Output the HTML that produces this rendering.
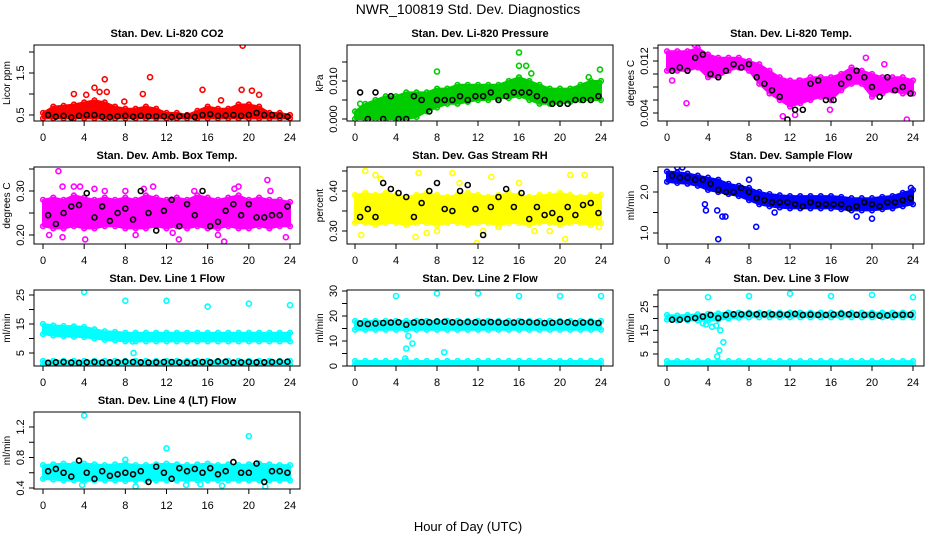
<!DOCTYPE html>
<html><head><meta charset="utf-8"><style>
html,body{margin:0;padding:0;background:#fff;}
svg{display:block;font-family:"Liberation Sans",Arial,sans-serif;}
</style></head><body>
<svg id="chart" width="936" height="540" viewBox="0 0 936 540" xmlns="http://www.w3.org/2000/svg">
<rect x="0" y="0" width="936" height="540" fill="#fff"/>
<text x="468" y="14" text-anchor="middle" font-size="14">NWR_100819  Std. Dev. Diagnostics</text>
<text x="468" y="531" text-anchor="middle" font-size="13">Hour of Day (UTC)</text>
</svg>
<script>
const bandT=[0,1,2,3,4,5,6,7,8,9,10,11,12,13,14,15,16,17,18,19,20,21,22,23,24];
const blackT=[0.5,1.25,2,2.75,3.5,4.25,5,5.75,6.5,7.25,8,8.75,9.5,10.25,11,11.75,12.5,13.25,14,14.75,15.5,16.25,17,17.75,18.5,19.25,20,20.75,21.5,22.25,23,23.75];
const xTicks=[0,4,8,12,16,20,24];

const co2Lo=[0.42,0.42,0.42,0.42,0.42,0.42,0.42,0.42,0.42,0.42,0.42,0.42,0.42,0.42,0.42,0.42,0.42,0.42,0.42,0.42,0.42,0.42,0.42,0.42,0.42];
const co2Hi=[0.55,0.7,0.72,0.75,0.8,0.85,0.8,0.7,0.65,0.65,0.7,0.65,0.55,0.55,0.5,0.6,0.7,0.65,0.65,0.75,0.75,0.7,0.55,0.55,0.5];
const co2Out=[[19.4,2.15],[6,1.35],[10.4,1.4],[5,1.15],[15.5,1.1],[19.3,1.1],[20.3,1.08],[3,1.0],[9.7,1.0],[4.2,0.98],[5.5,1.05],[6.2,1.05],[21,0.98],[7.9,0.82],[17.3,0.85]];
const co2Black=[0.5,0.46,0.48,0.44,0.48,0.5,0.5,0.46,0.45,0.47,0.48,0.46,0.48,0.47,0.47,0.47,0.45,0.47,0.48,0.45,0.5,0.52,0.48,0.49,0.5,0.48,0.5,0.55,0.5,0.5,0.48,0.46];

const presLo=[0,0,0,0,0,0,0.0005,0.002,0.003,0.004,0.004,0.0045,0.005,0.005,0.0055,0.0055,0.006,0.005,0.004,0.004,0.004,0.0045,0.005,0.005,0.005];
const presHi=[0.002,0.004,0.005,0.006,0.006,0.007,0.007,0.007,0.008,0.008,0.009,0.009,0.009,0.009,0.009,0.010,0.011,0.010,0.009,0.008,0.008,0.008,0.009,0.010,0.010];
const presOut=[[8,0.0125],[16,0.0175],[16,0.014],[16.7,0.014],[22.8,0.011],[23.9,0.013],[17.2,0.012],[0.5,0.004],[1.7,0.003],[2.2,0.004],[4.6,0.003]];
const presBlack=[0.007,0,0.007,0,0.006,0,0,0.006,0.005,0.002,0.005,0.005,0.005,0.006,0.005,0.006,0.006,0.007,0.005,0.006,0.007,0.007,0.007,0.006,0.005,0.004,0.004,0.004,0.005,0.005,0.005,0.006];

const tempLo=[0.0105,0.0105,0.0105,0.011,0.0095,0.0095,0.0105,0.011,0.0105,0.0085,0.007,0.006,0.005,0.0055,0.006,0.0065,0.006,0.0075,0.0085,0.0085,0.0065,0.007,0.0075,0.007,0.007];
const tempHi=[0.0135,0.0135,0.0135,0.014,0.013,0.0125,0.0125,0.0125,0.012,0.0115,0.0105,0.0095,0.009,0.009,0.0095,0.0095,0.0095,0.010,0.011,0.0105,0.010,0.0095,0.0095,0.0095,0.009];
const tempOut=[[1.9,0.0055],[2.7,0.0145],[0.5,0.009],[11.3,0.0035],[12.5,0.0037],[12.9,0.009],[19.4,0.0125],[23.4,0.003],[21.2,0.0115],[15.9,0.0045]];
const tempBlack=[0.0105,0.011,0.0105,0.0125,0.013,0.01,0.0095,0.0105,0.0115,0.011,0.0115,0.0095,0.0085,0.0075,0.0065,0.003,0.0045,0.0045,0.0085,0.009,0.006,0.006,0.0085,0.0095,0.0105,0.0095,0.008,0.0065,0.0095,0.0075,0.008,0.007];

const ambLo=[0.22,0.215,0.215,0.22,0.215,0.215,0.22,0.22,0.215,0.215,0.215,0.22,0.215,0.22,0.215,0.22,0.215,0.215,0.22,0.215,0.215,0.22,0.215,0.22,0.22];
const ambHi=[0.28,0.285,0.28,0.29,0.285,0.28,0.285,0.28,0.285,0.28,0.29,0.285,0.28,0.285,0.28,0.29,0.285,0.28,0.285,0.29,0.28,0.285,0.28,0.28,0.275];
const ambOut=[[1.5,0.345],[1.9,0.31],[0.6,0.2],[1.9,0.195],[4.1,0.19],[5,0.305],[8,0.3],[9.8,0.305],[10.7,0.31],[13.2,0.19],[14.7,0.3],[18.6,0.305],[19,0.31],[21.8,0.325],[22.1,0.3],[23.6,0.195],[17.6,0.185],[3,0.31],[3.6,0.31],[6,0.3],[17,0.2],[9,0.2],[12.6,0.205]];
const ambBlack=[0.245,0.225,0.25,0.265,0.268,0.295,0.24,0.265,0.232,0.25,0.26,0.235,0.3,0.25,0.21,0.255,0.28,0.22,0.27,0.245,0.3,0.22,0.23,0.255,0.27,0.245,0.27,0.24,0.24,0.245,0.245,0.265];

const rhLo=[0.32,0.32,0.315,0.32,0.32,0.315,0.32,0.32,0.315,0.32,0.32,0.315,0.32,0.32,0.315,0.32,0.32,0.315,0.32,0.32,0.315,0.32,0.32,0.315,0.32];
const rhHi=[0.39,0.395,0.39,0.395,0.39,0.385,0.39,0.395,0.39,0.385,0.39,0.395,0.39,0.385,0.39,0.395,0.39,0.385,0.39,0.39,0.395,0.39,0.385,0.39,0.39];
const rhOut=[[1,0.45],[2,0.44],[2.5,0.43],[6.2,0.445],[8,0.3],[9.5,0.445],[0.6,0.29],[5.9,0.285],[7,0.295],[11.9,0.27],[12.5,0.3],[13.3,0.435],[20.5,0.28],[21,0.44],[22.4,0.44],[19,0.3],[16,0.42],[14,0.31],[17.5,0.3],[10.2,0.42],[23.8,0.31]];
const rhBlack=[0.335,0.355,0.335,0.42,0.405,0.395,0.385,0.335,0.37,0.4,0.42,0.355,0.35,0.4,0.415,0.355,0.29,0.36,0.385,0.405,0.36,0.395,0.33,0.36,0.34,0.345,0.33,0.36,0.34,0.365,0.37,0.345];

const sfLo=[2.25,2.22,2.2,2.15,2.05,2.0,1.95,1.9,1.8,1.7,1.65,1.62,1.6,1.6,1.6,1.6,1.6,1.58,1.55,1.55,1.55,1.58,1.6,1.65,1.7];
const sfHi=[2.5,2.48,2.45,2.4,2.35,2.3,2.2,2.15,2.1,2.0,1.95,1.92,1.9,1.9,1.9,1.9,1.9,1.88,1.85,1.85,1.85,1.88,1.9,1.98,2.05];
const sfOut=[[3.7,1.7],[3.8,1.55],[4.9,1.55],[5,0.85],[5.4,1.4],[5.7,1.4],[8.7,1.15],[8,2.3],[1,2.6],[1.5,2.6],[20,1.35],[18.5,1.4],[23.8,2.1],[10.5,1.5]];
const sfBlack=[2.4,2.35,2.35,2.3,2.3,2.2,2.05,2.0,2.0,2.1,2.0,1.85,1.8,1.75,1.75,1.75,1.7,1.65,1.75,1.7,1.7,1.7,1.7,1.6,1.65,1.75,1.7,1.65,1.75,1.75,1.8,1.85];

const l1Lo=[11.5,11,10.8,10.6,10.5,10,9.5,9.3,9,9,9,9,9,9,9,9,9,9,9,9,9,9,9,9,9];
const l1Hi=[15,14.5,14.3,14.2,14,13.2,12.5,12.3,12,12,12,12,12,12,12,12,12,12,12,12,12,12,12,12,12];
const l1Lo2=[1,1,1,1,1,1,1,1,1,1,1,1,1,1,1,1,1,1,1,1,1,1,1,1,1];
const l1Hi2=[2.3,2.3,2.3,2.3,2.3,2.3,2.3,2.3,2.3,2.3,2.3,2.3,2.3,2.3,2.3,2.3,2.3,2.3,2.3,2.3,2.3,2.3,2.3,2.3,2.3];
const l1Out=[[4,26],[8,23],[12,23],[16,21],[20,22],[24,21.5],[8.7,9],[8.8,5]];
const l1Black=[1.6,1.8,1.9,1.7,1.6,1.8,1.9,1.7,1.8,1.8,2.0,1.9,1.8,1.7,1.8,1.9,1.9,1.8,1.7,1.7,1.9,1.8,2.1,2.0,1.7,1.8,1.9,1.8,1.8,1.9,2.0,2.0];

const l2Lo=[14.5,14.5,14.5,14.5,14.5,14.5,14.5,14.5,14.5,14.5,14.5,14.5,14.5,14.5,14.5,14.5,14.5,14.5,14.5,14.5,14.5,14.5,14.5,14.5,14.5];
const l2Hi=[18,18,18,18,18,18,18,18,18,18,18,18,18,18,18,18,18,18,18,18,18,18,18,18,18];
const l2Lo2=[0.5,0.5,0.5,0.5,0.5,0.5,0.5,0.5,0.5,0.5,0.5,0.5,0.5,0.5,0.5,0.5,0.5,0.5,0.5,0.5,0.5,0.5,0.5,0.5,0.5];
const l2Hi2=[2,2,2,2,2,2,2,2,2,2,2,2,2,2,2,2,2,2,2,2,2,2,2,2,2];
const l2Out=[[4,28],[8,29],[12,29],[16,28],[20,28],[24,28],[4.9,3],[5,7],[5.2,12],[5.6,9],[8.7,5.5]];
const l2Black=[17,16.8,17,17.2,17.4,17.5,16.5,17.4,17.6,17.5,17.8,17.7,17.5,17.4,17.6,17.5,17.4,17.6,17.5,17.3,17.4,17.6,17.5,17.4,17.2,17.3,17.6,17.5,17.2,17.4,17.5,17.2];

const l3Lo=[19.5,19.3,19.2,19.2,19,19.5,20,20.3,20.5,20.5,20.5,20.5,20.5,20.5,20.5,20.5,20.5,20.5,20.5,20.5,20.5,20.5,20.5,20.5,20.5];
const l3Hi=[21.5,21.3,21.5,21.8,22,22.2,22.5,22.5,22.5,22.5,22.5,22.5,22.5,22.5,22.5,22.5,22.5,22.5,22.5,22.5,22.5,22.5,22.5,22.5,22.5];
const l3Lo2=[0.5,0.5,0.5,0.5,0.5,0.5,0.5,0.5,0.5,0.5,0.5,0.5,0.5,0.5,0.5,0.5,0.5,0.5,0.5,0.5,0.5,0.5,0.5,0.5,0.5];
const l3Hi2=[2,2,2,2,2,2,2,2,2,2,2,2,2,2,2,2,2,2,2,2,2,2,2,2,2];
const l3Out=[[4,29],[8,29.5],[12,30.5],[16,29.5],[20,30],[24,29],[3.5,18],[3.8,17.5],[4.4,16.5],[4.8,17],[5.2,15],[5.5,10],[5.1,6.5],[4.9,4]];
const l3Black=[19.5,19.5,19.8,20.2,20.8,21.5,20.2,21.5,21.8,21.8,22,21.8,21.8,21.8,21.8,21.7,22,21.5,21.7,21.5,21.5,21.7,22,21.8,21.6,21.5,21.6,21.2,21.3,21.5,21.6,21.6];

const l4Lo=[0.52,0.51,0.5,0.5,0.49,0.5,0.5,0.5,0.49,0.5,0.5,0.5,0.5,0.5,0.5,0.5,0.5,0.5,0.5,0.5,0.5,0.5,0.5,0.5,0.5];
const l4Hi=[0.7,0.71,0.72,0.71,0.72,0.71,0.7,0.71,0.72,0.7,0.7,0.71,0.72,0.71,0.7,0.71,0.72,0.7,0.71,0.7,0.71,0.72,0.71,0.7,0.7];
const l4Out=[[4,1.35],[12,0.92],[20,1.08],[8,0.77],[3.8,0.44],[9,0.42],[13.9,0.44],[17.4,0.43],[21.6,0.42],[15.3,0.45]];
const l4Black=[0.62,0.65,0.6,0.55,0.76,0.6,0.52,0.62,0.56,0.58,0.6,0.58,0.62,0.48,0.68,0.6,0.52,0.66,0.62,0.65,0.6,0.66,0.58,0.62,0.74,0.6,0.6,0.72,0.48,0.62,0.62,0.6];

const svg=document.getElementById('chart');
const NS='http://www.w3.org/2000/svg';
function mk(tag,attrs,parent){const e=document.createElementNS(NS,tag);for(const k in attrs)e.setAttribute(k,attrs[k]);(parent||svg).appendChild(e);return e;}

const cols=[{b0:34,b1:300,x0:43,x24:290},{b0:347,b1:613,x0:355,x24:601},{b0:658,b1:924,x0:667,x24:913}];
const rows=[{t:45,b:121},{t:167,b:244},{t:290,b:366},{t:412,b:489}];

const panels=[
 {name:'co2',title:'Stan. Dev. Li-820 CO2',ylab:'Licor ppm',c:0,r:0,col:'#ff0000',ref:[0.5,115,1.5,73],ticks:[0.5,1,1.5,2],labels:[[0.5,'0.5'],[1.5,'1.5']],bands:[[co2Lo,co2Hi]],out:co2Out,black:co2Black},
 {name:'pressure',title:'Stan. Dev. Li-820 Pressure',ylab:'kPa',c:1,r:0,col:'#00cc00',ref:[0,119,0.01,81],ticks:[0,0.005,0.01,0.015],labels:[[0,'0.000'],[0.01,'0.010']],bands:[[presLo,presHi]],out:presOut,black:presBlack},
 {name:'temp',title:'Stan. Dev. Li-820 Temp.',ylab:'degrees C',c:2,r:0,col:'#ff00ff',ref:[0.004,113,0.012,61],ticks:[0.004,0.006,0.008,0.01,0.012,0.014],labels:[[0.004,'0.004'],[0.012,'0.012']],bands:[[tempLo,tempHi]],out:tempOut,black:tempBlack},
 {name:'amb-box-temp',title:'Stan. Dev. Amb. Box Temp.',ylab:'degrees C',c:0,r:1,col:'#ff00ff',ref:[0.2,235,0.3,191],ticks:[0.2,0.25,0.3,0.35],labels:[[0.2,'0.20'],[0.3,'0.30']],bands:[[ambLo,ambHi]],out:ambOut,black:ambBlack},
 {name:'gas-rh',title:'Stan. Dev. Gas Stream RH',ylab:'percent',c:1,r:1,col:'#ffff00',ref:[0.3,231,0.4,191],ticks:[0.3,0.35,0.4,0.45],labels:[[0.3,'0.30'],[0.4,'0.40']],bands:[[rhLo,rhHi]],out:rhOut,black:rhBlack},
 {name:'sample-flow',title:'Stan. Dev. Sample Flow',ylab:'ml/min',c:2,r:1,col:'#0000ff',ref:[1,233,2,192],ticks:[1,1.5,2,2.5],labels:[[1,'1.0'],[2,'2.0']],bands:[[sfLo,sfHi]],out:sfOut,black:sfBlack},
 {name:'line1-flow',title:'Stan. Dev. Line 1 Flow',ylab:'ml/min',c:0,r:2,col:'#00ffff',ref:[5,353,15,324],ticks:[5,10,15,20,25],labels:[[5,'5'],[15,'15'],[25,'25']],bands:[[l1Lo,l1Hi],[l1Lo2,l1Hi2]],out:l1Out,black:l1Black},
 {name:'line2-flow',title:'Stan. Dev. Line 2 Flow',ylab:'ml/min',c:1,r:2,col:'#00ffff',ref:[0,366,30,291],ticks:[0,5,10,15,20,25,30],labels:[[0,'0'],[10,'10'],[20,'20'],[30,'30']],bands:[[l2Lo,l2Hi],[l2Lo2,l2Hi2]],out:l2Out,black:l2Black},
 {name:'line3-flow',title:'Stan. Dev. Line 3 Flow',ylab:'ml/min',c:2,r:2,col:'#00ffff',ref:[5,354,25,306.7],ticks:[5,10,15,20,25,30],labels:[[5,'5'],[15,'15'],[25,'25']],bands:[[l3Lo,l3Hi],[l3Lo2,l3Hi2]],out:l3Out,black:l3Black},
 {name:'line4-flow',title:'Stan. Dev. Line 4 (LT) Flow',ylab:'ml/min',c:0,r:3,col:'#00ffff',ref:[0.4,488,1.2,427],ticks:[0.4,0.6,0.8,1.0,1.2],labels:[[0.4,'0.4'],[0.8,'0.8'],[1.2,'1.2']],bands:[[l4Lo,l4Hi]],out:l4Out,black:l4Black}
];

panels.forEach(p=>{
 const C=cols[p.c],R=rows[p.r];
 const xs=t=>C.x0+(C.x24-C.x0)*t/24;
 const ys=v=>p.ref[1]+(p.ref[3]-p.ref[1])*(v-p.ref[0])/(p.ref[2]-p.ref[0]);
 const g=mk('g',{});
 
 
 const clipId='clip-'+p.name;
 const cp=mk('clipPath',{id:clipId},g);
 mk('rect',{x:C.b0,y:R.t,width:C.b1-C.b0,height:R.b-R.t},cp);
 const pl=mk('g',{'clip-path':'url(#'+clipId+')'},g);
 p.bands.forEach((b,bi)=>{
  const lo=b[0],hi=b[1];
  let d='';
  bandT.forEach((t,i)=>{d+=(i?'L':'M')+xs(t).toFixed(1)+','+ys(hi[i]).toFixed(1);});
  for(let i=bandT.length-1;i>=0;i--)d+='L'+xs(bandT[i]).toFixed(1)+','+ys(lo[i]).toFixed(1);
  d+='Z';
  const band=mk('path',{d:d,fill:p.col,stroke:p.col,'stroke-width':2,'stroke-linejoin':'round'},pl);
  
  
  bandT.forEach((t,i)=>{
   [lo[i],hi[i]].forEach(v=>{
    const c=mk('circle',{cx:xs(t),cy:ys(v),r:2.3,fill:'none',stroke:p.col,'stroke-width':1.6},pl);
    
    
   });
  });
 });
 p.out.forEach(o=>{
  const c=mk('circle',{cx:xs(o[0]),cy:ys(o[1]),r:2.5,fill:'none',stroke:p.col,'stroke-width':1.6},pl);
  
  
 });
 p.black.forEach((v,i)=>{
  const c=mk('circle',{cx:xs(blackT[i]),cy:ys(v),r:2.5,fill:'none',stroke:'#000','stroke-width':1.6},pl);
  
  
 });
 const box=mk('rect',{x:C.b0,y:R.t,width:C.b1-C.b0,height:R.b-R.t,fill:'none',stroke:'#000','stroke-width':1},g);
 
 
 const ttl=mk('text',{x:(C.b0+C.b1)/2,y:R.t-8,'text-anchor':'middle','font-size':11,'font-weight':'bold'},g);
 ttl.textContent=p.title;
 
 
 xTicks.forEach(t=>{
  mk('line',{x1:xs(t),x2:xs(t),y1:R.b,y2:R.b+5,stroke:'#000'},g);
  const tl=mk('text',{x:xs(t),y:R.b+20,'text-anchor':'middle','font-size':11},g);
  tl.textContent=t;
  
  
 });
 p.ticks.forEach(v=>{mk('line',{x1:C.b0-5,x2:C.b0,y1:ys(v),y2:ys(v),stroke:'#000'},g);});
 p.labels.forEach(l=>{
  const y=ys(l[0]),x=C.b0-10;
  const tl=mk('text',{x:x,y:y,'text-anchor':'middle','font-size':11,transform:'rotate(-90 '+x+' '+y+')'},g);
  tl.textContent=l[1];
  
  
 });
 const yx=C.b0-24,yy=(R.t+R.b)/2;
 const yl=mk('text',{x:yx,y:yy,'text-anchor':'middle','font-size':10,transform:'rotate(-90 '+yx+' '+yy+')'},g);
 yl.textContent=p.ylab;
 
 
});
</script>
</body></html>
